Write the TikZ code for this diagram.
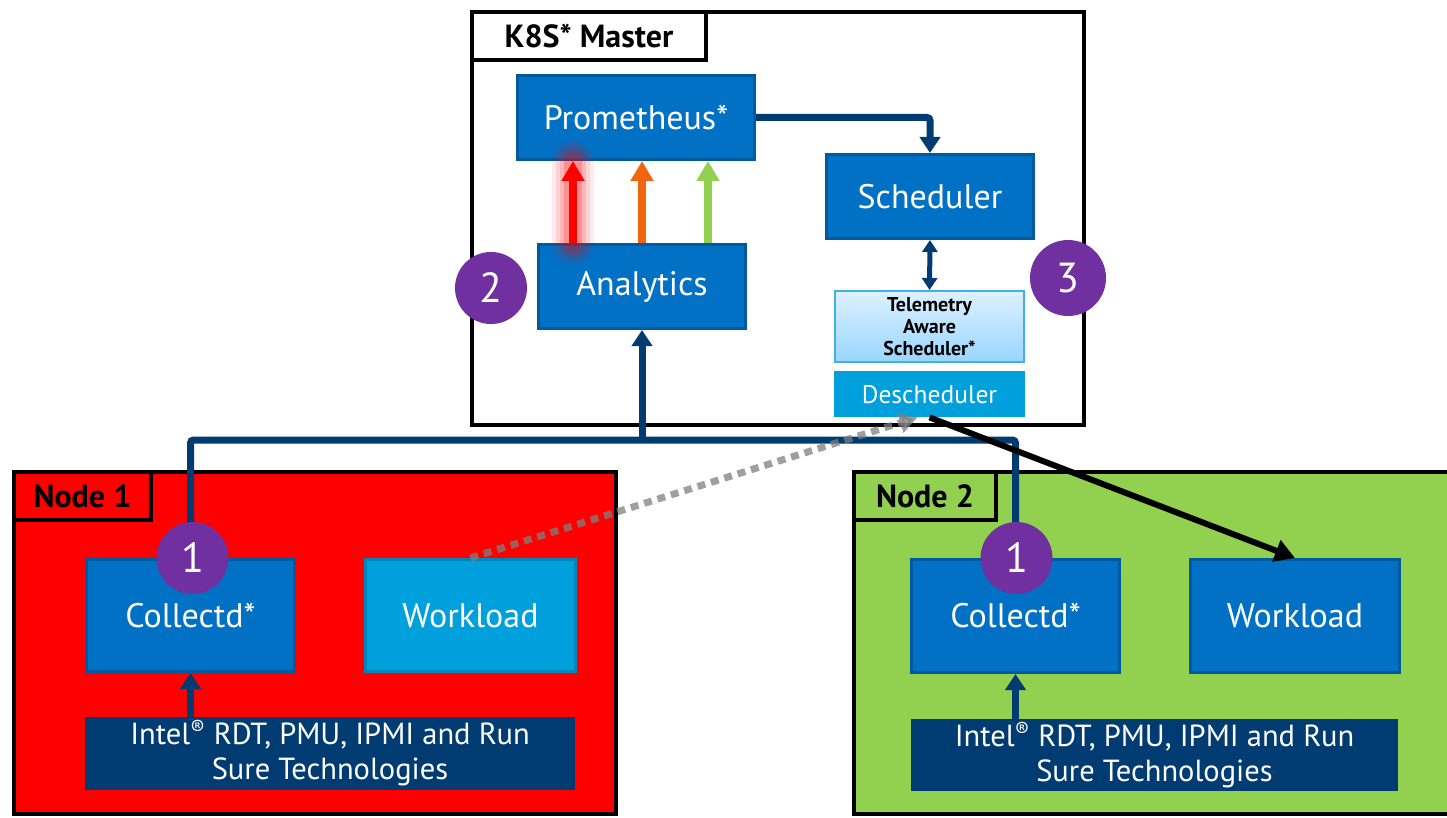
\documentclass[tikz,border=0pt]{standalone}
\usepackage{fontspec}
\setmainfont{PT Sans}
\usepackage{tikz}
\usetikzlibrary{positioning,arrows.meta}

\definecolor{intelblue}{HTML}{0071C5}
\definecolor{blueedge}{HTML}{005A9E}
\definecolor{navy}{HTML}{003C71}
\definecolor{skyblue}{HTML}{00A0DC}
\definecolor{skyedge}{HTML}{0086BA}
\definecolor{numpurple}{HTML}{7030A0}
\definecolor{nodered}{HTML}{FF0000}
\definecolor{nodegreen}{HTML}{92D050}
\definecolor{metorange}{HTML}{F0650E}
\definecolor{tastop}{HTML}{DDF1FF}
\definecolor{tasbot}{HTML}{99D6FF}
\definecolor{tasedge}{HTML}{45AEE8}

\begin{document}
\begin{tikzpicture}[x=1pt,y=-1pt,
    box/.style={rectangle, draw=blueedge, line width=3pt, fill=intelblue, text=white,
      inner sep=0pt, font=\fontsize{34}{38}\selectfont},
    frame/.style={rectangle, draw=black, line width=4pt, inner sep=0pt},
    tag/.style={frame, font=\bfseries\fontsize{32}{36}\selectfont, anchor=north west},
    tech/.style={rectangle, fill=navy, text=white, inner sep=0pt, align=center,
      font=\fontsize{30.5}{35}\selectfont},
    num/.style={circle, fill=numpurple, text=white, inner sep=0pt, minimum size=72pt,
      font=\fontsize{42}{44}\selectfont},
    flow/.style={draw=navy, line width=7pt, -{Triangle[length=16pt,width=20pt]}},
    metric/.style={line width=8pt, -{Triangle[length=20pt,width=22pt]}}]

  \useasboundingbox (0,0) rectangle (1447,818);
  \fill[white] (0,0) rectangle (1447,818);

  % master
  \node[frame, fill=white, minimum width=612pt, minimum height=413pt] (master) at (778,218.5) {};
  \node[tag, fill=white, minimum width=234pt, minimum height=48pt] (mtag) at (master.north west) {K8S* Master};
  \node[box, minimum width=237pt, minimum height=84pt] (prom) at (636,117.5) {Prometheus*};
  \node[box, minimum width=207pt, minimum height=84pt] (sched) at (930,196.5) {Scheduler};
  \node[box, minimum width=207pt, minimum height=84pt] (anal) at (642,286.5) {Analytics};
  \node[rectangle, draw=tasedge, line width=2pt, top color=tastop, bottom color=tasbot,
    minimum width=189pt, minimum height=71pt, inner sep=0pt, align=center,
    font=\bfseries\fontsize{20}{22}\selectfont] (tas) at (929.5,326.5) {Telemetry\\Aware\\Scheduler*};
  \node[rectangle, fill=skyblue, text=white, minimum width=191pt, minimum height=46pt,
    font=\fontsize{25.5}{28}\selectfont] (desch) [below=8pt of tas] {Descheduler};

  % node 1
  \node[frame, fill=nodered, minimum width=602pt, minimum height=342pt] (n1) at (315,643) {};
  \node[tag, fill=nodered, minimum width=137pt, minimum height=48pt] (n1tag) at (n1.north west) {Node 1};
  \node[box, minimum width=208pt, minimum height=112pt] (coll1) at (190.5,615.5) {Collectd*};
  \node[box, fill=skyblue, draw=skyedge, minimum width=210pt, minimum height=112pt] (work1) [right=68pt of coll1] {Workload};
  \node[tech, minimum width=490pt, minimum height=73pt] (tech1) at (330,753.5) {Intel\textsuperscript{®} RDT, PMU, IPMI and Run\\Sure Technologies};

  % node 2
  \node[frame, fill=nodegreen, minimum width=596pt, minimum height=342pt] (n2) at (1152,643) {};
  \node[tag, fill=nodegreen, minimum width=142pt, minimum height=48pt] (n2tag) at (n2.north west) {Node 2};
  \node[box, minimum width=208pt, minimum height=113pt] (coll2) at (1015.5,616) {Collectd*};
  \node[box, minimum width=209pt, minimum height=113pt] (work2) [right=68pt of coll2] {Workload};
  \node[tech, minimum width=487pt, minimum height=72pt] (tech2) at (1154.5,755) {Intel\textsuperscript{®} RDT, PMU, IPMI and Run\\Sure Technologies};

  % connectors
  \coordinate (busmid) at (anal.south |- 0,440);
  \draw[navy, line width=7pt, rounded corners=3pt] (coll1.north) |- (busmid) -| (coll2.north);
  \draw[flow] (busmid) -- (anal.south);
  \draw[flow, rounded corners=3pt] (prom.east) -| (sched.north);
  \draw[navy, line width=5pt, {Triangle[length=12pt,width=15pt]}-{Triangle[length=12pt,width=15pt]}] (sched.south) -- (tas.north);
  \draw[flow] (coll1.south |- tech1.north) -- (coll1.south);
  \draw[flow] (coll2.south |- tech2.north) -- (coll2.south);

  \foreach \gw/\go in {42/0.08, 34/0.1, 26/0.14, 18/0.2}
    \draw[nodered, line width=\gw pt, opacity=\go, line cap=round] (anal.north -| 573,0) -- (prom.south -| 573,0);
  \foreach \mx/\mc in {573/nodered, 642/metorange, 708/nodegreen}
    \draw[metric, \mc] (anal.north -| \mx,0) -- (prom.south -| \mx,0);

  \draw[gray, opacity=0.75, line width=7pt, dash pattern=on 8pt off 6pt,
    -{Triangle[length=18pt,width=20pt]}] (work1.north) -- ([xshift=-12pt]desch.south);
  \draw[black, line width=6pt, -{Triangle[length=20pt,width=22pt]}] (desch.south) -- (work2.north);

  % step numbers
  \node[num] (one1) at ([xshift=2pt]coll1.north) {1};
  \node[num] (one2) at ([xshift=1pt]coll2.north) {1};
  \node[num] (two) at (491,288) {2};
  \node[num, minimum size=76pt] (three) at (1068,278) {3};
\end{tikzpicture}
\end{document}
